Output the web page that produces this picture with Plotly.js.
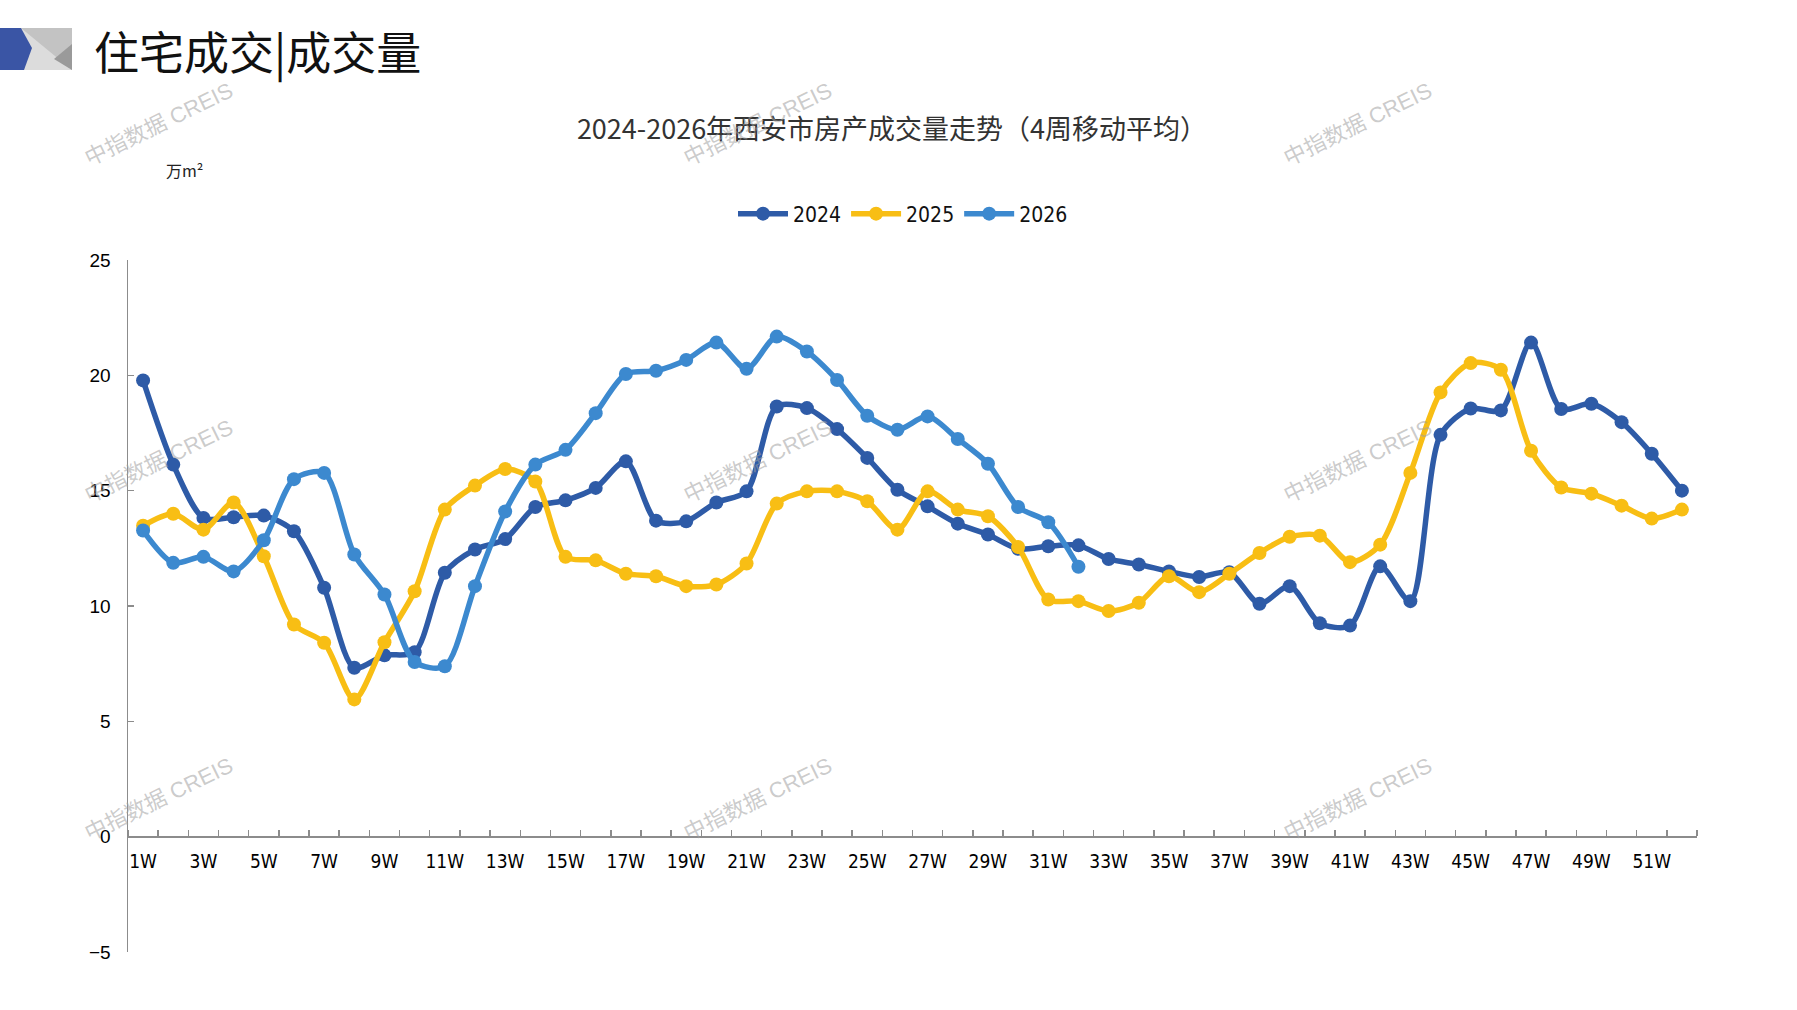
<!DOCTYPE html>
<html>
<head>
<meta charset="utf-8">
<script src="https://cdn.plot.ly/plotly-3.0.1.min.js"></script>
<style>
html, body { margin: 0; padding: 0; background: #fff; }
#chart { width: 1797px; height: 1010px; }
</style>
</head>
<body>
<div id="chart"></div>
<script>
// week labels
var weeks = [];
for (var i = 1; i <= 52; i++) weeks.push(i + 'W');

// 4-week moving average, 万m²
var v2024 = [19.78, 16.13, 13.82, 13.85, 13.92, 13.24, 10.79, 7.32, 7.86, 8.0,
             11.44, 12.45, 12.9, 14.29, 14.58, 15.12, 16.27, 13.7, 13.67, 14.49,
             14.97, 18.65, 18.58, 17.67, 16.42, 15.04, 14.32, 13.57, 13.1, 12.48,
             12.59, 12.63, 12.04, 11.8, 11.5, 11.26, 11.46, 10.1, 10.86, 9.25,
             9.15, 11.72, 10.21, 17.42, 18.56, 18.48, 21.42, 18.54, 18.77, 17.97,
             16.6, 15.0];
var v2025 = [13.48, 14.0, 13.31, 14.49, 12.16, 9.2, 8.41, 5.95, 8.43, 10.64,
             14.18, 15.22, 15.94, 15.4, 12.13, 11.98, 11.4, 11.29, 10.86, 10.93,
             11.84, 14.44, 14.97, 14.97, 14.54, 13.31, 14.97, 14.18, 13.89, 12.56,
             10.28, 10.21, 9.78, 10.14, 11.29, 10.6, 11.4, 12.3, 13.0, 13.05,
             11.9, 12.66, 15.77, 19.26, 20.53, 20.24, 16.73, 15.14, 14.87, 14.35,
             13.79, 14.18];
var v2026 = [13.27, 11.87, 12.13, 11.5, 12.85, 15.5, 15.77, 12.23, 10.5, 7.57,
             7.39, 10.86, 14.1, 16.13, 16.77, 18.36, 20.06, 20.2, 20.67, 21.42,
             20.28, 21.68, 21.03, 19.8, 18.25, 17.64, 18.22, 17.24, 16.17, 14.29,
             13.63, 11.7];

var seriesNames = ['2024', '2025', '2026'];
var seriesValues = [v2024, v2025, v2026];
var seriesColors = ['#2E5BA7', '#F8BE14', '#3C89CF'];

var W = 1797, H = 1010, L = 128, R = 100, T = 260, B = 58;
function pxX(px) { return (px - L) / (W - L - R); }
function pxY(py) { return (H - B - py) / (H - T - B); }
function poly(pts) {
    var s = '';
    for (var k = 0; k < pts.length; k++) {
        s += (k === 0 ? 'M' : 'L') + pxX(pts[k][0]).toFixed(5) + ',' + pxY(pts[k][1]).toFixed(5);
    }
    return s + 'Z';
}

var numFont = 'Liberation Sans Narrow, DejaVu Sans Condensed, Liberation Sans, sans-serif';
var cjkFont = 'Liberation Sans Narrow, Noto Sans CJK SC, sans-serif';

var traces = [];
for (var s = 0; s < seriesNames.length; s++) {
    traces.push({
        x: seriesValues[s].map(function (v, j) { return j + 1; }),
        y: seriesValues[s],
        name: seriesNames[s],
        type: 'scatter',
        mode: 'lines+markers',
        line: { color: seriesColors[s], width: 5.5, shape: 'spline', smoothing: 0.8 },
        marker: { color: seriesColors[s], size: 14 },
        hoverinfo: 'x+y'
    });
}

var oddVals = [], oddText = [];
for (var i = 0; i < weeks.length; i += 2) { oddVals.push(i + 1); oddText.push(weeks[i]); }

var annotations = [
    {
        text: '住宅成交|成交量', xref: 'paper', yref: 'paper',
        x: pxX(92), y: pxY(50), xanchor: 'left', yanchor: 'middle', showarrow: false,
        font: { family: 'Noto Sans CJK SC, sans-serif', size: 45, color: '#111' }
    },
    {
        text: '万m²', xref: 'paper', yref: 'paper',
        x: pxX(164), y: pxY(170), xanchor: 'left', yanchor: 'middle', showarrow: false,
        font: { family: 'Noto Sans CJK SC, sans-serif', size: 16, color: '#222' }
    }
];

// watermarks
var wmX = [158, 757, 1357], wmY = [124, 461, 799];
for (var a = 0; a < wmX.length; a++) {
    for (var b = 0; b < wmY.length; b++) {
        annotations.push({
            text: '中指数据 CREIS', xref: 'paper', yref: 'paper',
            x: pxX(wmX[a]), y: pxY(wmY[b]), xanchor: 'center', yanchor: 'middle',
            showarrow: false, textangle: -26,
            font: { family: 'Liberation Sans, Noto Sans CJK SC, sans-serif', size: 22, color: 'rgba(160,160,160,0.55)' }
        });
    }
}

var shapes = [
    { type: 'path', xref: 'paper', yref: 'paper', line: { width: 0 }, fillcolor: '#C3C3C3',
      path: poly([[0, 28], [72, 28], [72, 70], [0, 70]]) },
    { type: 'path', xref: 'paper', yref: 'paper', line: { width: 0 }, fillcolor: '#DCDCDC',
      path: poly([[21, 28], [72, 70], [23, 70]]) },
    { type: 'path', xref: 'paper', yref: 'paper', line: { width: 0 }, fillcolor: '#9A9A9A',
      path: poly([[54, 59], [72, 44], [72, 70]]) },
    { type: 'path', xref: 'paper', yref: 'paper', line: { width: 0 }, fillcolor: '#3A55A5',
      path: poly([[0, 28], [21, 28], [32, 48], [24, 70], [0, 70]]) }
];

var layout = {
    width: W, height: H,
    margin: { l: L, r: R, t: T, b: B, pad: 0 },
    paper_bgcolor: '#fff',
    plot_bgcolor: '#fff',
    title: {
        text: '2024-2026年西安市房产成交量走势（4周移动平均）',
        xref: 'container', yref: 'container',
        x: 892 / W, y: 1 - 130 / H, xanchor: 'center', yanchor: 'middle',
        font: { family: cjkFont, size: 27, color: '#333' }
    },
    showlegend: true,
    legend: {
        orientation: 'h', x: pxX(903), y: pxY(214), xanchor: 'center', yanchor: 'middle',
        font: { family: numFont, size: 21, color: '#111' },
        itemwidth: 50, tracegroupgap: 0
    },
    xaxis: {
        type: 'linear',
        range: [0.5, 52.5],
        anchor: 'free',
        position: 5 / 30,
        showline: true, linecolor: '#8C8C8C', linewidth: 2,
        showgrid: false, zeroline: false,
        tickmode: 'array', tickvals: oddVals, ticktext: oddText,
        ticks: '',
        ticklabelstandoff: 8,
        tickfont: { family: numFont, size: 19, color: '#000' },
        minor: { tickmode: 'linear', tick0: 0.5, dtick: 1, ticks: 'inside', ticklen: 6, tickwidth: 1.5, tickcolor: '#8C8C8C', showgrid: false }
    },
    yaxis: {
        range: [-5, 25],
        dtick: 5,
        showline: true, linecolor: '#8C8C8C', linewidth: 1.5,
        showgrid: false, zeroline: false,
        ticks: 'inside', ticklen: 6, tickwidth: 1.5, tickcolor: '#8C8C8C',
        ticklabelstandoff: 12,
        tickfont: { family: 'Liberation Sans, sans-serif', size: 19, color: '#000' }
    },
    annotations: annotations,
    shapes: shapes
};

Plotly.newPlot('chart', traces, layout, { displayModeBar: false, staticPlot: true });
</script>
</body>
</html>
